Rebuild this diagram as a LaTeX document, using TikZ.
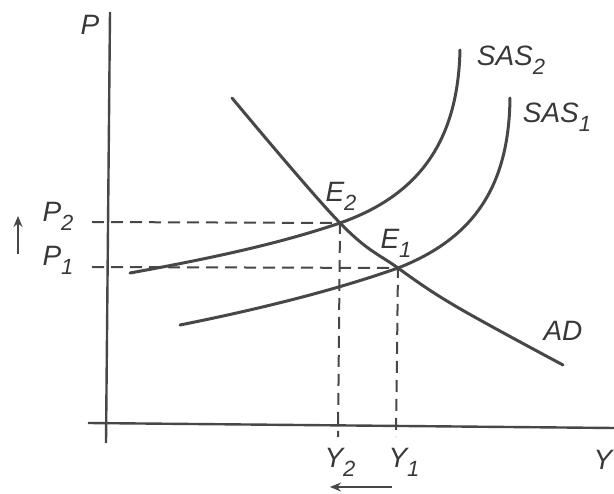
\documentclass[tikz,border=0pt]{standalone}
\usepackage{fontspec}
\setmainfont{Liberation Sans}
\usetikzlibrary{arrows.meta}
\newcommand{\lbl}[2]{{\fontsize{28}{30}\selectfont\itshape #1}\raisebox{-9pt}{\fontsize{22}{23}\selectfont\itshape #2}}
\begin{document}
\begin{tikzpicture}[x=1pt,y=-1pt,
  ink/.style={draw=black!72},
  axisline/.style={ink,line width=2.4pt},
  curve/.style={ink,line width=3pt,line cap=round},
  guide/.style={ink,line width=2pt,dash pattern=on 12pt off 7pt},
  shiftarrow/.style={ink,line width=1.6pt,-{Stealth[length=11pt,width=9pt]}},
  txt/.style={text=black!78,inner sep=0pt,font=\fontsize{28}{30}\selectfont\itshape}]
\useasboundingbox (0,0) rectangle (614,494);
% key points
\coordinate (E2) at (340,223);
\coordinate (E1) at (398,268);
\coordinate (ytop) at (110,12);
\coordinate (ybot) at (106,443);
\coordinate (xl) at (88,423);
\coordinate (xr) at (614,428);
\coordinate (p2l) at (92,222);
\coordinate (p1l) at (92,267);
\coordinate (y2b) at (338,437);
\coordinate (y1b) at (396,437);
% axes
\draw[axisline] (ytop) -- (ybot);
\draw[axisline] (xl) -- (xr);
% dashed guides
\draw[guide] (p2l) -- (E2) -- (y2b);
\draw[guide] (p1l) -- (E1) -- (y1b);
% curves
\draw[curve] (130,273) .. controls (230,255) and (290,240) .. (E2)
  .. controls (420,195) and (458,140) .. (460,50);
\draw[curve] (180,325) .. controls (280,305) and (350,285) .. (E1)
  .. controls (475,238) and (509,185) .. (510,98);
\draw[curve] plot[smooth,tension=0.6] coordinates {(232,98) (340,223) (398,268) (457,307) (563,365)};
% labels
\node[txt] (lP) at (90,25) {P};
\node[txt] (lP2) at (58,216) {\lbl{P}{2}};
\node[txt] (lP1) at (58,260) {\lbl{P}{1}};
\node[txt] (lE2) at (341,196) {\lbl{E}{2}};
\node[txt] (lE1) at (396,243) {\lbl{E}{1}};
\node[txt] (lS2) at (511,60) {\lbl{SAS}{2}};
\node[txt] (lS1) at (557,117) {\lbl{SAS}{1}};
\node[txt] (lAD) at (563,331) {AD};
\node[txt] (lY2) at (340,462) {\lbl{Y}{2}};
\node[txt] (lY1) at (404,462) {\lbl{Y}{1}};
\node[txt] (lY) at (603,460) {Y};
% shift arrows
\coordinate (ua1) at (18,254);
\coordinate (ua2) at (18,216);
\draw[shiftarrow] (ua1) -- (ua2);
\coordinate (la1) at (392,487);
\coordinate (la2) at (330,487);
\draw[shiftarrow] (la1) -- (la2);
\end{tikzpicture}
\end{document}
